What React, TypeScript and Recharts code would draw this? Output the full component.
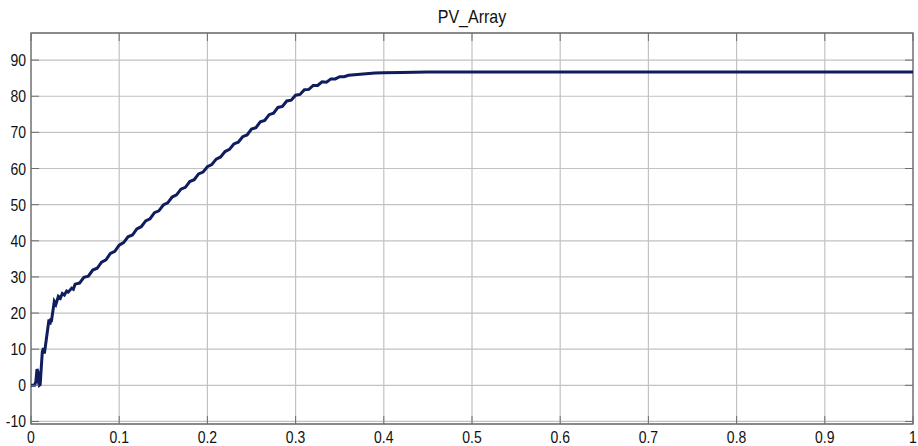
import React from 'react';
import { LineChart, Line, XAxis, YAxis, CartesianGrid, ReferenceArea } from 'recharts';

// PV array output over time
const time = [
  0, 0.004, 0.0055, 0.0068, 0.0078, 0.0088, 0.0094, 0.0104, 0.0128, 0.014, 0.0151, 0.0162,
  0.0204, 0.0215, 0.0225, 0.023, 0.0264, 0.0282, 0.031, 0.0333, 0.0355, 0.0378, 0.0404,
  0.0423, 0.0461, 0.048,
  0.05, 0.055, 0.06, 0.065, 0.07, 0.075, 0.08, 0.085, 0.09, 0.095,
  0.1, 0.105, 0.11, 0.115, 0.12, 0.125, 0.13, 0.135, 0.14, 0.145,
  0.15, 0.155, 0.16, 0.165, 0.17, 0.175, 0.18, 0.185, 0.19, 0.195,
  0.2, 0.205, 0.21, 0.215, 0.22, 0.225, 0.23, 0.235, 0.24, 0.245,
  0.25, 0.255, 0.26, 0.265, 0.27, 0.275, 0.28, 0.285, 0.29, 0.295,
  0.3, 0.305, 0.31, 0.315, 0.32, 0.325, 0.33, 0.335, 0.34, 0.345,
  0.35, 0.355, 0.36, 0.37, 0.38, 0.39, 0.4, 0.42, 0.45, 0.5, 1,
];
const voltage = [
  0, 0, 1, 4.5, 3.8, 0.5, 0, 0.2, 9.2, 10.3, 8.8, 10.6,
  18.2, 16.8, 18.5, 17.5, 23.2, 22.4, 24.6, 24.1, 25.4, 25.0, 26.1,
  25.8, 26.9, 26.6,
  28.0, 28.3, 29.9, 30.2, 31.9, 32.4, 34.1, 34.7, 36.5, 37.1,
  38.8, 39.5, 41.1, 41.6, 43.3, 43.9, 45.5, 46.1, 47.8, 48.3,
  49.9, 50.5, 52.1, 52.7, 54.3, 54.8, 56.4, 56.9, 58.5, 59.0,
  60.5, 61.1, 62.6, 63.2, 64.7, 65.3, 66.8, 67.3, 68.8, 69.3,
  70.9, 71.3, 72.9, 73.3, 74.9, 75.3, 76.9, 77.2, 78.7, 78.9,
  80.3, 80.5, 81.8, 81.9, 83.0, 83.0, 84.0, 83.9, 84.8, 84.8,
  85.4, 85.4, 85.8, 86.0, 86.2, 86.4, 86.5, 86.6, 86.7, 86.7, 86.7,
];
const xTicks = [0, 0.1, 0.2, 0.3, 0.4, 0.5, 0.6, 0.7, 0.8, 0.9, 1];
const yTicks = [-10, 0, 10, 20, 30, 40, 50, 60, 70, 80, 90];

const data = time.map((t, i) => ({ t, v: voltage[i] }));

const PLOT_TOP = 33;
const PLOT_BOTTOM = 424;
const PLOT_LEFT = 31;
const PLOT_RIGHT = 913;
const FONT = "Arial, 'Liberation Sans', sans-serif";
const FRAME = '#6e6e6e';

// labels in the original look a little stretched vertically
const Label = ({ x, y, anchor, children }: any) => (
  <text
    transform={`translate(${x},${y}) scale(1,1.15)`}
    textAnchor={anchor}
    fontSize={14}
    fontFamily={FONT}
    fill="#111"
  >
    {children}
  </text>
);

const XTick = (props: any) => {
  const { x, payload } = props;
  return (
    <g>
      <line x1={x} x2={x} y1={PLOT_BOTTOM} y2={PLOT_BOTTOM - 8} stroke={FRAME} />
      <line x1={x} x2={x} y1={PLOT_TOP} y2={PLOT_TOP + 8} stroke={FRAME} />
      <Label x={x} y={PLOT_BOTTOM + 19} anchor="middle">{String(payload.value)}</Label>
    </g>
  );
};

const YTick = (props: any) => {
  const { y, payload } = props;
  return (
    <g>
      <line x1={PLOT_LEFT} x2={PLOT_LEFT + 8} y1={y} y2={y} stroke={FRAME} />
      <line x1={PLOT_RIGHT} x2={PLOT_RIGHT - 8} y1={y} y2={y} stroke={FRAME} />
      <Label x={PLOT_LEFT - 5} y={y + 6} anchor="end">{String(payload.value)}</Label>
    </g>
  );
};

export default function App() {
  return (
    <div style={{ position: 'absolute', left: 0, top: 0, width: 918, height: 446, background: '#fff' }}>
      <div
        style={{
          position: 'absolute',
          left: PLOT_LEFT,
          width: PLOT_RIGHT - PLOT_LEFT,
          top: 7,
          height: 20,
          lineHeight: '20px',
          textAlign: 'center',
          fontFamily: FONT,
          fontSize: 16,
          color: '#111',
          transform: 'scaleY(1.12)',
        }}
      >
        PV_Array
      </div>
      <LineChart width={918} height={446} data={data} margin={{ top: PLOT_TOP, right: 918 - PLOT_RIGHT, bottom: 0, left: 0 }}>
        <CartesianGrid stroke="#c2c2c2" strokeWidth={1.2} />
        <XAxis
          dataKey="t"
          type="number"
          domain={[0, 1]}
          ticks={xTicks}
          interval={0}
          height={446 - PLOT_BOTTOM}
          axisLine={false}
          tickLine={false}
          tick={XTick}
        />
        <YAxis
          type="number"
          domain={[-10.7, 97.5]}
          ticks={yTicks}
          interval={0}
          width={PLOT_LEFT}
          allowDataOverflow
          axisLine={false}
          tickLine={false}
          tick={YTick}
        />
        <ReferenceArea x1={0} x2={1} y1={-10.7} y2={97.5} fill="none" stroke={FRAME} strokeWidth={1.3} ifOverflow="visible" />
        <Line
          type="linear"
          dataKey="v"
          stroke="#0f1c5e"
          strokeWidth={3}
          dot={false}
          isAnimationActive={false}
        />
      </LineChart>
    </div>
  );
}
